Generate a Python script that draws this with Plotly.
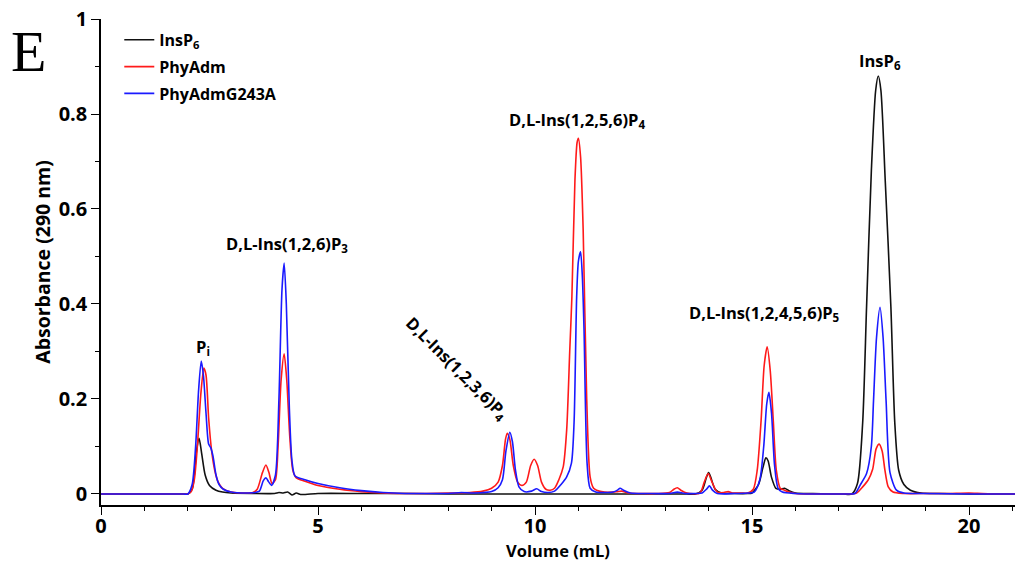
import plotly.graph_objects as go

# Elution volume (mL) and absorbance at 290 nm for each run
insp6_vol = [0, 0.8, 1.6, 1.9, 2.0, 2.1, 2.15, 2.2, 2.26, 2.32, 2.4, 2.5, 2.65, 2.8, 3.0, 3.5,
             4.0, 4.1, 4.2, 4.3, 4.4, 4.5, 4.6, 5.0, 6.0, 7.0, 8.0, 9.0, 10.0, 11.0, 12.0, 13.0,
             13.5, 13.7, 13.85, 13.95, 14.0, 14.05, 14.15, 14.3, 14.6, 14.9, 15.0, 15.15, 15.25,
             15.32, 15.37, 15.45, 15.55, 15.65, 15.75, 15.85, 16.0, 16.4, 16.8, 17.1, 17.3,
             17.43, 17.55, 17.64, 17.75, 17.85, 17.91, 17.97, 18.07, 18.2, 18.29, 18.38, 18.5,
             18.65, 18.9, 19.3, 20.0, 20.6, 21.1]
insp6_abs = [0, 0, 0, 0, 0, 0.01, 0.04, 0.09, 0.117, 0.085, 0.04, 0.018, 0.008, 0.004, 0.002,
             0.001, 0.001, 0.003, 0.002, 0.004, -0.002, 0.002, -0.001, 0.001, 0.001, 0.001, 0,
             0, 0, 0, 0, 0, 0, 0, 0.008, 0.035, 0.045, 0.035, 0.01, 0.002, 0.001, 0.001, 0.002,
             0.02, 0.055, 0.076, 0.07, 0.035, 0.012, 0.01, 0.012, 0.007, 0.002, 0.001, 0, 0, 0,
             0.022, 0.15, 0.394, 0.68, 0.85, 0.88, 0.85, 0.66, 0.394, 0.15, 0.05, 0.02, 0.008,
             0.002, 0.001, 0, 0, 0]

phyadm_vol = [0, 0.8, 1.6, 1.9, 2.0, 2.08, 2.15, 2.22, 2.3, 2.37, 2.42, 2.48, 2.55, 2.62, 2.7,
              2.8, 3.0, 3.3, 3.5, 3.6, 3.72, 3.8, 3.87, 3.94, 4.02, 4.08, 4.15, 4.22, 4.28, 4.35,
              4.42, 4.5, 4.7, 5.0, 5.5, 6.0, 6.5, 7.0, 7.5, 8.0, 8.5, 8.8, 9.0, 9.15, 9.25, 9.32,
              9.36, 9.42, 9.5, 9.6, 9.7, 9.8, 9.9, 9.98, 10.06, 10.15, 10.25, 10.35, 10.45,
              10.55, 10.65, 10.73, 10.8, 10.85, 10.92, 10.97, 11.0, 11.05, 11.11, 11.19, 11.27,
              11.35, 11.42, 11.6, 11.8, 11.9, 12.0, 12.15, 12.5, 12.8, 13.1, 13.2, 13.28, 13.36,
              13.5, 13.8, 13.9, 13.99, 14.08, 14.2, 14.35, 14.45, 14.55, 14.75, 14.9, 15.03,
              15.12, 15.21, 15.28, 15.35, 15.42, 15.49, 15.56, 15.65, 15.75, 15.85, 16.0, 16.4,
              16.8, 17.1, 17.3, 17.41, 17.55, 17.68, 17.78, 17.86, 17.93, 18.0, 18.06, 18.14,
              18.25, 18.5, 19.0, 19.5, 20.0, 20.3, 20.7, 21.1]
phyadm_abs = [0, 0, 0, 0, 0, 0.005, 0.03, 0.1, 0.21, 0.265, 0.25, 0.16, 0.09, 0.05, 0.025,
              0.012, 0.004, 0.002, 0.003, 0.01, 0.045, 0.061, 0.045, 0.022, 0.03, 0.1, 0.24,
              0.295, 0.24, 0.12, 0.05, 0.034, 0.027, 0.018, 0.01, 0.005, 0.002, 0.001, 0.001,
              0.002, 0.003, 0.006, 0.012, 0.025, 0.06, 0.115, 0.128, 0.115, 0.06, 0.025, 0.018,
              0.025, 0.06, 0.073, 0.06, 0.025, 0.01, 0.008, 0.012, 0.03, 0.057, 0.135, 0.3,
              0.415, 0.66, 0.74, 0.749, 0.71, 0.556, 0.205, 0.036, 0.012, 0.008, 0.004, 0.004,
              0.005, 0.006, 0.002, 0.001, 0.001, 0.003, 0.01, 0.013, 0.008, 0.002, 0.002, 0.025,
              0.043, 0.025, 0.004, 0.003, 0.005, 0.002, 0.002, 0.002, 0.01, 0.05, 0.155, 0.27,
              0.31, 0.26, 0.155, 0.05, 0.012, 0.008, 0.004, 0.001, 0, 0, 0, 0, 0.002, 0.015,
              0.03, 0.052, 0.095, 0.105, 0.09, 0.052, 0.015, 0.004, 0.001, 0.001, 0.001, 0.002,
              0.001, 0, 0]

g243a_vol = [0, 0.8, 1.6, 1.9, 2.0, 2.1, 2.18, 2.25, 2.31, 2.36, 2.42, 2.48, 2.53, 2.58, 2.65,
             2.72, 2.82, 3.0, 3.4, 3.55, 3.65, 3.74, 3.8, 3.86, 3.93, 4.02, 4.1, 4.17, 4.22,
             4.27, 4.34, 4.4, 4.47, 4.7, 5.0, 5.5, 6.0, 6.5, 7.0, 7.5, 8.0, 8.3, 8.6, 9.0, 9.15,
             9.25, 9.33, 9.42, 9.48, 9.55, 9.63, 9.75, 9.92, 10.04, 10.15, 10.3, 10.45, 10.6,
             10.73, 10.84, 10.9, 10.96, 11.0, 11.05, 11.09, 11.13, 11.2, 11.27, 11.4, 11.6,
             11.8, 11.9, 11.96, 12.04, 12.2, 12.6, 13.1, 13.28, 13.45, 13.7, 13.85, 13.95,
             14.02, 14.09, 14.2, 14.6, 14.9, 15.05, 15.18, 15.27, 15.34, 15.39, 15.45, 15.52,
             15.6, 15.7, 16.0, 16.4, 16.8, 17.2, 17.37, 17.5, 17.64, 17.75, 17.8, 17.87, 17.95,
             18.02, 18.09, 18.18, 18.33, 18.5, 19.0, 20.0, 21.1]
g243a_abs = [0, 0, 0, 0, 0, 0.02, 0.1, 0.22, 0.28, 0.25, 0.17, 0.105, 0.097, 0.08, 0.04, 0.02,
             0.01, 0.004, 0.002, 0.003, 0.006, 0.028, 0.034, 0.026, 0.018, 0.04, 0.2, 0.43,
             0.486, 0.4, 0.18, 0.07, 0.038, 0.03, 0.022, 0.013, 0.007, 0.003, 0.001, 0.001,
             0.001, 0.003, 0.002, 0.005, 0.013, 0.03, 0.09, 0.13, 0.11, 0.05, 0.015, 0.005,
             0.006, 0.011, 0.005, 0.003, 0.006, 0.02, 0.036, 0.065, 0.15, 0.415, 0.49, 0.51,
             0.46, 0.345, 0.065, 0.012, 0.004, 0.003, 0.004, 0.008, 0.012, 0.008, 0.002, 0.001,
             0.001, 0.004, 0.001, 0.001, 0.002, 0.01, 0.017, 0.008, 0.001, 0.001, 0.002, 0.004,
             0.03, 0.1, 0.19, 0.214, 0.17, 0.06, 0.012, 0.004, 0.001, 0, 0, 0, 0.001, 0.02,
             0.043, 0.1, 0.196, 0.33, 0.393, 0.33, 0.196, 0.045, 0.008, 0.002, 0.001, 0, 0]

series_names = ["InsP<sub>6</sub>", "PhyAdm", "PhyAdmG243A"]
series_colors = ["#111111", "#ff1a1a", "#1a1aff"]

# Peak labels: text, volume, absorbance, rotation
peak_text = ["P<sub>i</sub>", "D,L-Ins(1,2,6)P<sub>3</sub>", "D,L-Ins(1,2,3,6)P<sub>4</sub>",
             "D,L-Ins(1,2,5,6)P<sub>4</sub>", "D,L-Ins(1,2,4,5,6)P<sub>5</sub>", "InsP<sub>6</sub>"]
peak_x = [2.35, 4.29, 8.2, 10.97, 15.28, 17.95]
peak_y = [0.31, 0.526, 0.265, 0.787, 0.381, 0.912]
peak_angle = [0, 0, 45, 0, 0, 0]

x_ticks = [0, 5, 10, 15, 20]
y_ticks = [0, 0.2, 0.4, 0.6, 0.8, 1]
y_tick_text = ["0", "0.2", "0.4", "0.6", "0.8", "1"]

bold = dict(color="black", family="Open Sans", weight="bold")

fig = go.Figure()
for i, (vol, absb, name, col) in enumerate(zip([insp6_vol, phyadm_vol, g243a_vol],
                                               [insp6_abs, phyadm_abs, g243a_abs],
                                               series_names, series_colors)):
    fig.add_trace(go.Scatter(x=vol, y=absb, mode="lines", name=name, legendgroup=f"g{i}",
                             line=dict(color=col, width=1.6, shape="spline", smoothing=0.7)))

for txt, px, py, ang in zip(peak_text, peak_x, peak_y, peak_angle):
    fig.add_annotation(x=px, y=py, text=txt, showarrow=False, textangle=ang,
                       font=dict(size=16.5, **bold))

fig.add_annotation(xref="paper", yref="paper", x=-0.079, y=0.933, text="E", showarrow=False,
                   xanchor="center", yanchor="middle",
                   font=dict(family="Liberation Serif", size=58, color="black", weight="normal"))

axis_common = dict(showline=True, linecolor="black", linewidth=1.5, ticks="outside",
                   ticklen=8, tickwidth=1.4, tickcolor="black", showgrid=False, zeroline=False,
                   tickfont=dict(size=20, **bold))

fig.update_xaxes(range=[0, 21.06], tickvals=x_ticks, ticklabelstandoff=-6,
                 minor=dict(dtick=1, ticks="outside", ticklen=4, tickcolor="black", tickwidth=1),
                 title=dict(text="Volume (mL)", standoff=0, font=dict(size=16.5, **bold)),
                 **axis_common)
fig.update_yaxes(range=[-0.0232, 1.0], tickvals=y_ticks, ticktext=y_tick_text,
                 minor=dict(dtick=0.1, tick0=0, ticks="outside", ticklen=4, tickcolor="black",
                            tickwidth=1),
                 title=dict(text="Absorbance (290 nm)", standoff=3, font=dict(size=19.5, **bold)),
                 **axis_common)

fig.update_layout(
    width=1017, height=569,
    margin=dict(l=101, r=2, t=19, b=64, autoexpand=False),
    paper_bgcolor="white", plot_bgcolor="white",
    font=dict(family="Open Sans", color="black"),
    showlegend=True,
    legend=dict(x=0.02, y=0.992, xanchor="left", yanchor="top", bgcolor="rgba(0,0,0,0)",
                font=dict(size=16, **bold), tracegroupgap=3),
)

fig.write_html("out.html")
